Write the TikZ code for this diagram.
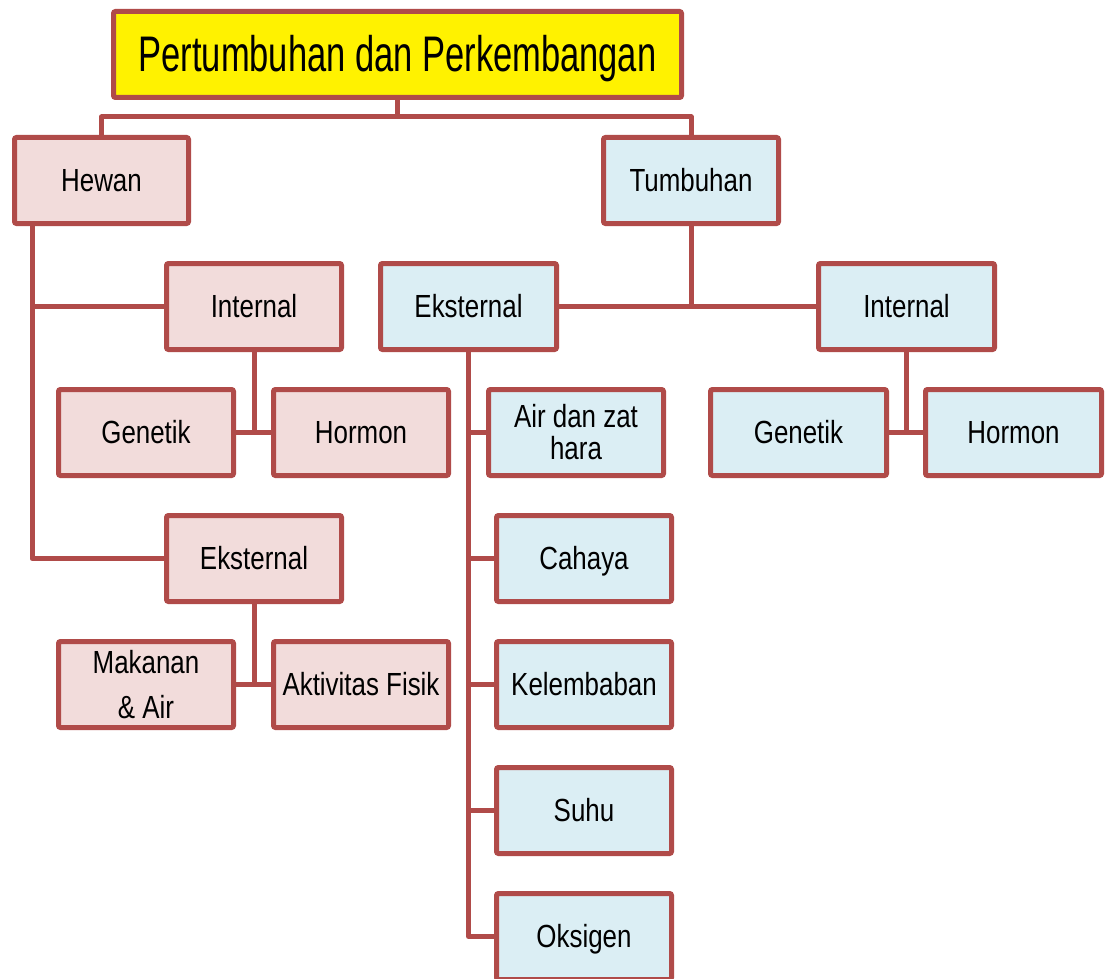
\documentclass[tikz,border=0pt]{standalone}
\usepackage{fontspec}
\setmainfont{Liberation Sans}[FakeStretch=0.81]
\newfontfamily\titlefont{Liberation Sans}[FakeStretch=0.69]
\definecolor{bord}{HTML}{B04B49}
\definecolor{pinkfill}{HTML}{F2DCDB}
\definecolor{bluefill}{HTML}{DBEEF4}
\begin{document}
\begin{tikzpicture}[x=1pt,y=-1pt,
  box/.style={draw=bord, line width=5pt, rounded corners=2pt, minimum width=175pt,
    minimum height=86pt, inner sep=0pt, align=center, font=\fontsize{32}{36}\selectfont},
  oneline/.style={text height=29pt, text depth=6.8pt},
  pinkbox/.style={box, fill=pinkfill},
  bluebox/.style={box, fill=bluefill},
  conn/.style={draw=bord, line width=5pt, line join=round}]
\useasboundingbox (0,0) rectangle (1109,979);
\clip (0,0) rectangle (1109,979);
% title
\node[box, text height=45pt, text depth=10.6pt, fill=yellow, minimum width=568pt, font=\titlefont\fontsize{50}{56}\selectfont] (title) at (397.5,54.5) {Pertumbuhan dan Perkembangan};
% level 1
\node[pinkbox, oneline, minimum width=174pt] (hewan) at (101.5,180.5) {Hewan};
\node[bluebox, oneline] (tumbuhan) at (691,180.5) {Tumbuhan};
% hewan side
\node[pinkbox, oneline] (hint) at (254,306.5) {Internal};
\node[pinkbox, oneline] (hgen) at (146,432.5) {Genetik};
\node[pinkbox, oneline] (hhor) at (361,432.5) {Hormon};
\node[pinkbox, oneline] (heks) at (254,558.5) {Eksternal};
\node[pinkbox, font=\fontsize{32}{45}\selectfont] (hmak) at (146,684.5) {Makanan\\\& Air};
\node[pinkbox, oneline] (hakt) at (361,684.5) {Aktivitas Fisik};
% tumbuhan side
\node[bluebox, oneline, minimum width=176pt] (peks) at (468.5,306.5) {Eksternal};
\node[bluebox, oneline, minimum width=176pt] (pint) at (906.5,306.5) {Internal};
\node[bluebox, oneline, minimum width=176pt] (pgen) at (798.5,432.5) {Genetik};
\node[bluebox, oneline, minimum width=176pt] (phor) at (1013.5,432.5) {Hormon};
\node[bluebox, font=\fontsize{32}{32}\selectfont] (air) at (576,432.5) {Air dan zat\\hara};
\node[bluebox, oneline] (cahaya) at (584,558.5) {Cahaya};
\node[bluebox, oneline] (kelem) at (584,684.5) {Kelembaban};
\node[bluebox, oneline] (suhu) at (584,810.5) {Suhu};
\node[bluebox, oneline] (oksigen) at (584,936.5) {Oksigen};
% connectors
\coordinate (bus) at (397.5,117);
\coordinate (hsp) at (32,0);
\coordinate (psp) at (468.5,0);
\draw[conn] (title.south) -- (bus);
\draw[conn] (hewan.north) |- (bus) -| (tumbuhan.north);
\draw[conn] (hewan.south -| hsp) |- (heks.west);
\draw[conn] (hint.west) -- (hint.west -| hsp);
\draw[conn] (hint.south) -- (hint.south |- hgen.east);
\draw[conn] (hgen.east) -- (hhor.west);
\draw[conn] (heks.south) -- (heks.south |- hmak.east);
\draw[conn] (hmak.east) -- (hakt.west);
\draw[conn] (tumbuhan.south) -- (tumbuhan.south |- peks.east);
\draw[conn] (peks.east) -- (pint.west);
\draw[conn] (pint.south) -- (pint.south |- pgen.east);
\draw[conn] (pgen.east) -- (phor.west);
\draw[conn] (peks.south) |- (oksigen.west);
\draw[conn] (air.west -| psp) -- (air.west);
\draw[conn] (cahaya.west -| psp) -- (cahaya.west);
\draw[conn] (kelem.west -| psp) -- (kelem.west);
\draw[conn] (suhu.west -| psp) -- (suhu.west);
\end{tikzpicture}
\end{document}
